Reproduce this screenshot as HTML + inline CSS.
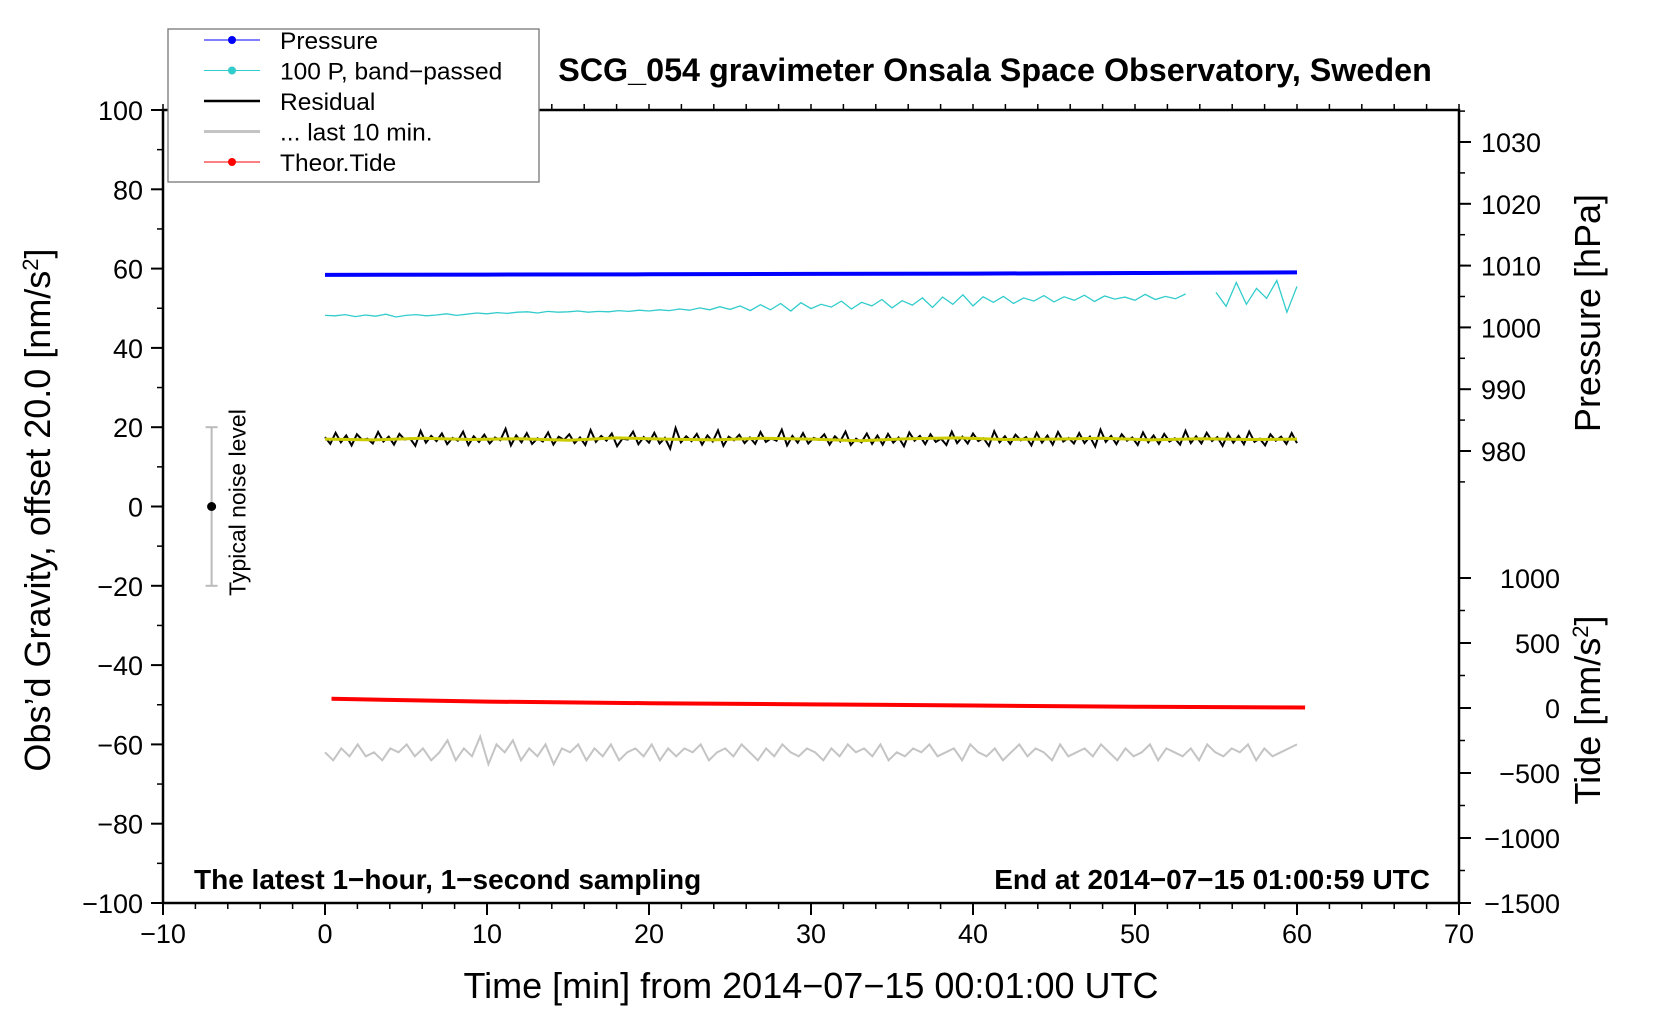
<!DOCTYPE html>
<html><head><meta charset="utf-8"><style>
body{margin:0;background:#fff}
svg{display:block;font-family:"Liberation Sans",Arial,sans-serif}
</style></head><body>
<svg id="chart" width="1660" height="1020" viewBox="0 0 1660 1020"></svg>
<script>
// ---- data (gravity units nm/s^2, x in minutes) ----
const xTicks=[-10,0,10,20,30,40,50,60,70];
const yTicks=[100,80,60,40,20,0,-20,-40,-60,-80,-100];
const pTicks=[1030,1020,1010,1000,990,980];
const tTicks=[1000,500,0,-500,-1000,-1500];
const pressureT=[0,10,20,30,40,50,60];
const pressureV=[1008.5,1008.55,1008.6,1008.65,1008.7,1008.8,1008.9];
const tideT=[0.4,10,20,30,40,50,60.5];
const tideV=[-48.5,-49.2,-49.6,-49.9,-50.2,-50.5,-50.7];
const cyanV=[48.2,48.1,48.4,47.9,48.3,48.0,48.5,47.8,48.2,48.4,48.1,48.3,48.6,48.2,48.5,48.8,48.6,48.9,48.7,49.0,49.1,48.8,49.2,49.0,49.1,49.3,49.0,49.2,49.1,49.4,49.2,49.5,49.3,49.6,49.4,49.8,49.5,50.1,49.6,50.4,49.7,50.6,49.4,50.9,49.6,51.2,49.3,51.4,49.9,51.0,50.3,51.8,49.8,51.5,50.6,52.2,50.1,51.9,50.8,52.6,50.2,52.8,51.0,53.4,50.6,52.9,51.5,53.0,51.2,52.6,51.8,53.2,51.6,52.9,52.0,53.3,51.7,53.1,52.3,52.8,52.0,53.5,52.2,53.0,52.4,53.6,null,null,54.0,50.5,56.5,51.0,55.0,52.5,57.0,49.0,55.5];
const residV=[17.5,15.8,18.6,16.2,17.9,15.4,18.2,16.8,17.1,15.9,18.8,16.4,17.6,15.6,18.3,16.9,17.2,15.3,19.1,16.1,17.8,16.5,18.4,15.7,17.3,16.6,18.9,15.5,17.7,16.3,18.1,15.9,17.4,16.7,19.6,15.4,17.9,16.2,18.5,15.8,17.2,16.4,18.7,15.6,17.6,16.8,18.2,16.0,17.4,15.5,19.3,16.3,17.8,16.6,18.4,15.2,17.1,16.9,18.9,15.7,17.5,16.1,18.6,15.9,17.3,14.6,19.8,16.2,17.7,16.5,18.3,15.6,17.9,16.4,19.2,15.3,17.6,16.7,18.1,16.0,17.4,15.8,18.8,16.3,17.2,16.6,19.4,15.4,17.8,16.1,18.5,15.9,17.3,16.8,18.2,15.6,17.7,16.4,18.9,15.5,17.1,16.2,18.4,15.8,
17.9,15.6,18.3,16.1,17.4,15.2,18.7,16.6,17.8,15.7,18.2,16.3,17.1,15.5,18.9,16.0,17.6,15.9,18.4,16.5,17.2,15.3,19.0,16.2,17.7,15.8,18.1,16.7,17.5,15.4,18.6,16.1,17.9,15.6,18.8,16.4,17.3,15.9,18.5,16.0,17.6,15.1,19.4,16.3,17.8,15.7,18.2,16.6,17.4,15.5,18.7,16.2,17.9,15.8,18.3,16.4,17.2,15.6,19.1,16.0,17.7,15.9,18.6,16.5,17.5,15.3,18.4,16.1,17.8,15.7,18.9,16.3,17.1,15.4,18.2,16.6,17.6,15.8,18.5,16.0];
const yellowV=[17.0,16.8,17.2,16.9,17.1,16.7,17.3,17.0,16.8,17.2,17.0,16.6,17.1,17.3,16.9,17.0,17.2,16.8,17.1,16.9,17.0];
const grayV=[-62,-64,-61,-63,-60,-63,-62,-64,-61,-62,-60,-63,-61,-64,-62,-59,-64,-61,-63,-58,-65,-60,-62,-59,-64,-61,-63,-60,-65,-61,-62,-60,-64,-61,-63,-60,-64,-62,-61,-63,-60,-64,-61,-63,-61,-62,-60,-64,-62,-61,-63,-60,-62,-64,-61,-63,-60,-62,-63,-61,-62,-64,-61,-63,-60,-62,-61,-63,-60,-64,-62,-63,-61,-62,-60,-63,-62,-61,-64,-60,-62,-63,-61,-64,-62,-60,-63,-61,-62,-64,-60,-63,-62,-61,-63,-60,-62,-64,-61,-63,-62,-60,-64,-61,-62,-63,-61,-64,-60,-62,-63,-61,-62,-60,-64,-61,-63,-62,-61,-60];

// ---- axes ----
const L=163,R=1459,T=110,B=903;
const X=v=>L+(v+10)/80*(R-L);
const Y=v=>B-(v+100)/200*(B-T);
const P=v=>451-(v-980)/10*61.8;
const TD=v=>903-(v+1500)/500*65;
const ns="http://www.w3.org/2000/svg";
const svg=document.getElementById('chart');
function mk(tag,attrs,parent){const e=document.createElementNS(ns,tag);for(const k in attrs)e.setAttribute(k,attrs[k]);(parent||svg).appendChild(e);return e;}
function txt(s,attrs,parent){const e=mk('text',attrs,parent);e.textContent=s;return e;}
const mono=s=>s.replace(/-/g,'\u2212');

const frame=mk('rect',{x:L,y:T,width:R-L,height:B-T,fill:'none',stroke:'#000','stroke-width':2.5});



xTicks.forEach(v=>{
  const l=mk('line',{x1:X(v),x2:X(v),y1:B,y2:B+12,stroke:'#000','stroke-width':2});
  
  
  const t=txt(mono(String(v)),{x:X(v),y:B+40,'font-size':27,'text-anchor':'middle'});
  
  
});
for(let v=-10;v<=70;v+=2){mk('line',{x1:X(v),x2:X(v),y1:B,y2:B+6,stroke:'#000','stroke-width':1.5});mk('line',{x1:X(v),x2:X(v),y1:T,y2:T-6,stroke:'#000','stroke-width':1.5});}
yTicks.forEach(v=>{
  mk('line',{x1:L-12,x2:L,y1:Y(v),y2:Y(v),stroke:'#000','stroke-width':2});
  const t=txt(mono(String(v)),{x:L-20,y:Y(v)+10,'font-size':27,'text-anchor':'end'});
  
  
});
for(let v=-90;v<100;v+=20)mk('line',{x1:L-6,x2:L,y1:Y(v),y2:Y(v),stroke:'#000','stroke-width':1.5});
pTicks.forEach(v=>{
  mk('line',{x1:R,x2:R+12,y1:P(v),y2:P(v),stroke:'#000','stroke-width':2});
  const t=txt(String(v),{x:R+22,y:P(v)+10,'font-size':27});
  
  
});
for(let v=975;v<=1035;v+=5)mk('line',{x1:R,x2:R+6,y1:P(v),y2:P(v),stroke:'#000','stroke-width':1.5});
tTicks.forEach(v=>{
  mk('line',{x1:R,x2:R+12,y1:TD(v),y2:TD(v),stroke:'#000','stroke-width':2});
  const t=txt(mono(String(v)),{x:1560,y:TD(v)+10,'font-size':27,'text-anchor':'end'});
  
  
});
for(let v=-1250;v<=1000;v+=250)mk('line',{x1:R,x2:R+6,y1:TD(v),y2:TD(v),stroke:'#000','stroke-width':1.5});

let a=txt("Obs\u2019d Gravity, offset 20.0 [nm/s",{transform:'translate(50,510) rotate(-90)','font-size':36,'text-anchor':'middle'});

const s1=mk('tspan',{'baseline-shift':'super','font-size':22},a);s1.textContent='2';
const s1b=mk('tspan',{},a);s1b.textContent=']';
a=txt("Time [min] from 2014\u221207\u221215 00:01:00 UTC",{x:811,y:998,'font-size':36,'text-anchor':'middle'});

a=txt("Pressure [hPa]",{transform:'translate(1600,313) rotate(-90)','font-size':36,'text-anchor':'middle'});

a=txt("Tide [nm/s",{transform:'translate(1600,710) rotate(-90)','font-size':36,'text-anchor':'middle'});

const s2=mk('tspan',{'baseline-shift':'super','font-size':22},a);s2.textContent='2';
const s2b=mk('tspan',{},a);s2b.textContent=']';

a=txt("SCG_054 gravimeter Onsala Space Observatory, Sweden",{x:995,y:81,'font-size':32.3,'font-weight':'bold','text-anchor':'middle'});

a=txt("The latest 1\u2212hour, 1\u2212second sampling",{x:194,y:889,'font-size':28,'font-weight':'bold'});

a=txt("End at 2014\u221207\u221215 01:00:59 UTC",{x:1430,y:889,'font-size':28,'font-weight':'bold','text-anchor':'end'});


function linePath(ts,vs,fy){let d='',pen=false;vs.forEach((v,i)=>{if(v===null){pen=false;return;}d+=(pen?'L':'M')+X(ts[i]).toFixed(1)+','+fy(v).toFixed(1);pen=true;});return d;}
const evenT=(arr,t0,t1)=>arr.map((_,i)=>t0+(t1-t0)*i/(arr.length-1));

let p=mk('path',{d:linePath(evenT(grayV,0,60),grayV,Y),fill:'none',stroke:'#c4c4c4','stroke-width':2});

p=mk('path',{d:linePath(tideT,tideV,Y),fill:'none',stroke:'#ff0000','stroke-width':4});

p=mk('path',{d:linePath(evenT(residV,0,60),residV,Y),fill:'none',stroke:'#000','stroke-width':2});

p=mk('path',{d:linePath(evenT(yellowV,0,60),yellowV,Y),fill:'none',stroke:'#cccc00','stroke-width':3});

p=mk('path',{d:linePath(evenT(cyanV,0,60),cyanV,Y),fill:'none',stroke:'#33cccc','stroke-width':1.3});

p=mk('path',{d:linePath(pressureT,pressureV,P),fill:'none',stroke:'#0000ff','stroke-width':4});


const nb=mk('g',{});

mk('line',{x1:X(-7),x2:X(-7),y1:Y(20),y2:Y(-20),stroke:'#bbb','stroke-width':2},nb);
mk('line',{x1:X(-7)-6,x2:X(-7)+6,y1:Y(20),y2:Y(20),stroke:'#bbb','stroke-width':2},nb);
mk('line',{x1:X(-7)-6,x2:X(-7)+6,y1:Y(-20),y2:Y(-20),stroke:'#bbb','stroke-width':2},nb);
mk('circle',{cx:X(-7),cy:Y(0),r:4.5,fill:'#000'},nb);
txt("Typical noise level",{transform:`translate(${X(-7)+34},${Y(0)-4}) rotate(-90)`,'font-size':23,'text-anchor':'middle'},nb);

const lg=mk('g',{});

mk('rect',{x:168,y:29,width:371,height:153,fill:'#fff',stroke:'#777','stroke-width':1.3},lg);
const items=[['Pressure','#0000ff',1,true],['100 P, band\u2212passed','#33cccc',1,true],['Residual','#000',2.5,false],['... last 10 min.','#c4c4c4',3,false],['Theor.Tide','#ff0000',1,true]];
items.forEach((it,i)=>{
  const y=40+i*30.5;
  const g=mk('g',{},lg);
  
  
  mk('line',{x1:204,x2:260,y1:y,y2:y,stroke:it[1],'stroke-width':it[2]},g);
  if(it[3])mk('circle',{cx:232,cy:y,r:4,fill:it[1]},g);
  txt(it[0],{x:280,y:y+9,'font-size':24.5},g);
});
</script>
</body></html>
